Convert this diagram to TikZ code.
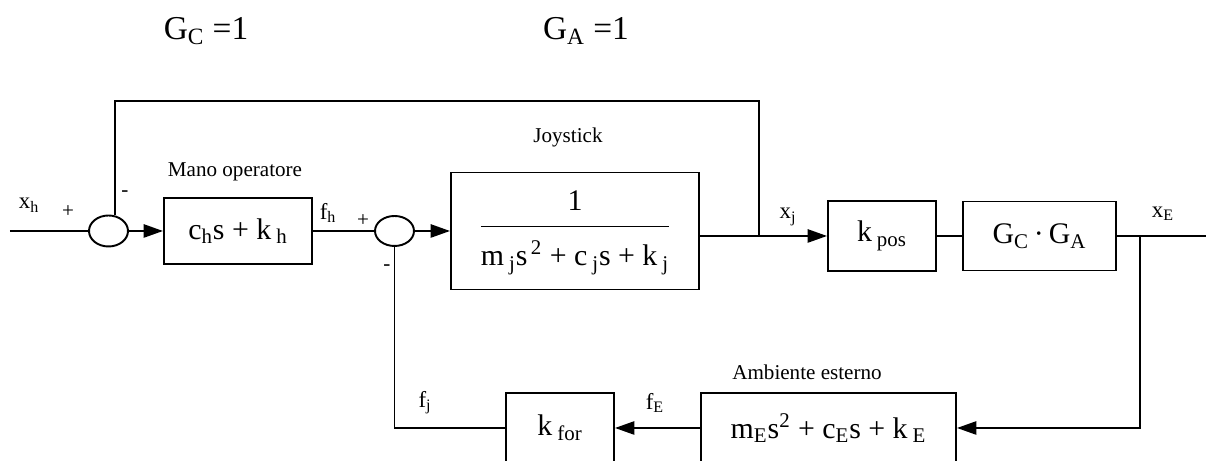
\documentclass[tikz,border=0pt]{standalone}
\usepackage{fontspec}
\setmainfont{Liberation Serif}
\usetikzlibrary{arrows.meta,shapes.geometric}

\begin{document}
\begin{tikzpicture}[>={Triangle[length=11pt,width=7.5pt]}, line width=1.1pt,
  blk/.style={draw, inner sep=0pt, font=\fontsize{17}{20}\selectfont},
  sumj/.style={draw, ellipse, inner sep=0pt, minimum width=0.78cm, minimum height=0.62cm},
  lbl/.style={font=\fontsize{12}{14}\selectfont},
  sig/.style={font=\fontsize{13}{15}\selectfont},
  sgn/.style={font=\fontsize{12}{14}\selectfont}]

% Page frame
\useasboundingbox (0,0) rectangle (24.12,9.22);
\clip (0,0) rectangle (24.12,9.22);

% Gains on top
\node[font=\fontsize{19}{22}\selectfont] (gc) at (4.12,8.60) {G\textsubscript{C} =1};
\node[font=\fontsize{19}{22}\selectfont] (ga) at (11.72,8.60) {G\textsubscript{A} =1};

% Summing junctions
\node[sumj] (sum1) at (2.17,4.60) {};
\node[sumj, minimum height=0.60cm] (sum2) at (7.89,4.60) {};

% Forward blocks
\node[blk, minimum width=2.96cm, minimum height=1.32cm] (mano) at (4.76,4.60) {c\textsubscript{h}s + k\,\textsubscript{h}};
\node[blk, minimum width=4.96cm, minimum height=2.34cm] (joy) at (11.50,4.60)
  {\begin{tabular}{@{}c@{}}1\\[3pt]\hline\rule{0pt}{22pt}m\,\textsubscript{j}s\textsuperscript{\,2} + c\,\textsubscript{j}s + k\,\textsubscript{j}\end{tabular}};
\node[blk, minimum width=2.16cm, minimum height=1.40cm] (kpos) at (17.64,4.50) {k\,\textsubscript{pos}};
\node[blk, minimum width=3.06cm, minimum height=1.38cm] (gca) at (20.79,4.50) {G\textsubscript{C}\,·\,G\textsubscript{A}};

% Feedback blocks
\node[blk, minimum width=2.16cm, minimum height=1.40cm] (kfor) at (11.20,0.66) {k\,\textsubscript{for}};
\node[blk, minimum width=5.10cm, minimum height=1.40cm] (amb) at (16.57,0.66) {m\textsubscript{E}s\textsuperscript{2} + c\textsubscript{E}s + k\,\textsubscript{E}};

% Free ends and branch points
\coordinate (in) at (0.20,4.60);
\coordinate (out) at (24.12,4.50);
\coordinate (tap) at (15.18,4.50);
\coordinate (top) at (15.18,7.20);
\coordinate (jE) at (22.80,4.50);

% Block titles
\node[lbl] (tmano) at (4.70,5.78) {Mano operatore};
\node[lbl] (tjoy) at (11.36,6.48) {Joystick};
\node[lbl] (tamb) at (16.14,1.78) {Ambiente esterno};

% Signal names
\node[sig] (xh) at (0.58,5.12) {x\textsubscript{h}};
\node[sig] (fh) at (6.56,4.96) {f\textsubscript{h}};
\node[sig] (xj) at (15.76,4.88) {x\textsubscript{j}};
\node[sig] (xE) at (23.26,4.94) {x\textsubscript{E}};
\node[sig] (fj) at (8.50,1.16) {f\textsubscript{j}};
\node[sig] (fE) at (13.10,1.16) {f\textsubscript{E}};

% Signs
\node[sgn] (p1) at (1.36,4.98) {+};
\node[sgn] (m1) at (2.50,5.34) {-};
\node[sgn] (p2) at (7.26,4.80) {+};
\node[sgn] (m2) at (7.74,3.86) {-};

% Forward path
\draw (in) -- (sum1);
\draw[->] (sum1) -- (mano);
\draw (mano) -- (sum2);
\draw[->] (sum2) -- (joy);
\draw (joy.east |- kpos) -- (tap);
\draw[->] (tap) -- (kpos);
\draw (kpos) -- (gca);
\draw (gca) -- (out);

% Position feedback
\draw (sum1.67) |- (top) -- (tap);

% Force feedback
\draw[->] (jE) |- (amb);
\draw[->] (amb) -- (kfor);
\draw (kfor) -| (sum2);

\end{tikzpicture}
\end{document}
